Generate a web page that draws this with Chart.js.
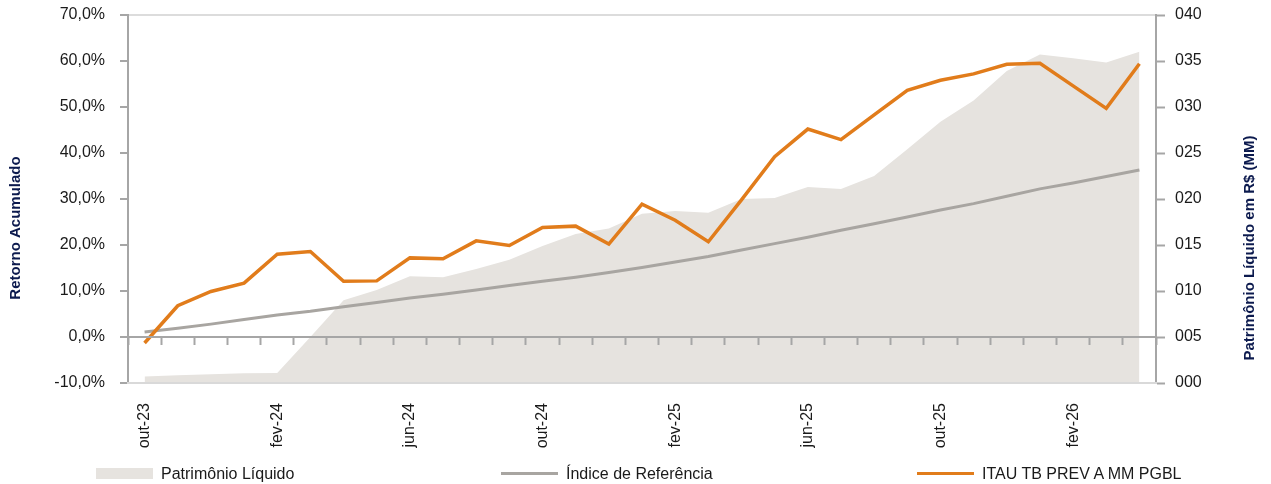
<!DOCTYPE html>
<html>
<head>
<meta charset="utf-8">
<script src="https://cdn.jsdelivr.net/npm/chart.js@4.4.1/dist/chart.umd.min.js"></script>
<style>
  html, body { margin: 0; padding: 0; background: #fff; }
  #wrap { position: relative; width: 1271px; height: 484px; font-family: "Liberation Sans", Arial, sans-serif; }
  #legend { position: absolute; left: 0; top: 462px; width: 1271px; height: 23px; }
  .item { position: absolute; top: 0; height: 23px; display: flex; align-items: center; font-size: 16px; color: #1a1a1a; white-space: nowrap; }
  .sw { width: 57px; margin-right: 8px; }
</style>
</head>
<body>
<div id="wrap">
  <canvas id="line-chart" width="1271" height="484"></canvas>
  <div id="legend"></div>
</div>
<script>
// meses (out-23 .. abr-26)
var months = ['out-23','nov-23','dez-23','jan-24','fev-24','mar-24','abr-24','mai-24','jun-24','jul-24',
              'ago-24','set-24','out-24','nov-24','dez-24','jan-25','fev-25','mar-25','abr-25','mai-25',
              'jun-25','jul-25','ago-25','set-25','out-25','nov-25','dez-25','jan-26','fev-26','mar-26','abr-26'];

// retorno acumulado do fundo (%)
var fundo = [-1.3, 6.8, 9.9, 11.7, 18.0, 18.6, 12.1, 12.2, 17.2, 17.0,
             20.9, 19.9, 23.8, 24.1, 20.2, 28.9, 25.4, 20.7, 29.8, 39.2,
             45.2, 42.9, 48.3, 53.6, 55.8, 57.2, 59.3, 59.5, 54.6, 49.7, 59.4];

// indice de referencia (%)
var indice = [1.1, 1.9, 2.8, 3.8, 4.8, 5.6, 6.6, 7.5, 8.5, 9.3,
              10.2, 11.2, 12.1, 13.0, 14.0, 15.1, 16.3, 17.5, 18.9, 20.3,
              21.7, 23.2, 24.6, 26.1, 27.6, 29.0, 30.6, 32.2, 33.5, 34.9, 36.3];

// patrimonio liquido (R$ MM)
var patrimonio = [0.7, 0.85, 0.95, 1.05, 1.1, 5.0, 9.0, 10.1, 11.6, 11.5,
                  12.4, 13.4, 14.9, 16.2, 16.8, 18.4, 18.7, 18.5, 20.0, 20.1,
                  21.3, 21.1, 22.5, 25.4, 28.4, 30.7, 33.9, 35.7, 35.3, 34.85, 36.0];

var names = ['Patrimônio Líquido', 'Índice de Referência', 'ITAU TB PREV A MM PGBL'];
var leftTitle = 'Retorno Acumulado';
var rightTitle = 'Patrimônio Líquido em R$ (MM)';

var corArea = '#E6E3DF';
var corIndice = '#A8A5A1';
var corFundo = '#E17C1B';
var fonte = '"Liberation Sans", Arial, sans-serif';

var axisTitles = {
    id: 'axisTitles',
    afterDraw: function(chart) {
        var ctx = chart.ctx;
        ctx.save();
        ctx.font = 'bold 15px ' + fonte;
        ctx.fillStyle = '#0C1A4E';
        ctx.textAlign = 'center';
        ctx.textBaseline = 'middle';
        ctx.translate(16, 228);
        ctx.rotate(-Math.PI / 2);
        ctx.fillText(leftTitle, 0, 0);
        ctx.restore();

        ctx.save();
        ctx.font = 'bold 15px ' + fonte;
        ctx.fillStyle = '#0C1A4E';
        ctx.textAlign = 'center';
        ctx.textBaseline = 'middle';
        ctx.translate(1250, 248);
        ctx.rotate(-Math.PI / 2);
        ctx.fillText(rightTitle, 0, 0);
        ctx.restore();
    }
};

new Chart(document.getElementById("line-chart"), {
    type: 'line',
    data: {
        labels: months,
        datasets: [{
            label: names[2],
            data: fundo,
            xAxisID: 'x',
            yAxisID: 'y',
            borderColor: corFundo,
            borderWidth: 3.5,
            pointRadius: 0,
            tension: 0,
            fill: false,
            order: 1
        }, {
            label: names[1],
            data: indice,
            xAxisID: 'x',
            yAxisID: 'y',
            borderColor: corIndice,
            borderWidth: 3,
            pointRadius: 0,
            tension: 0,
            fill: false,
            order: 2
        }, {
            label: names[0],
            data: patrimonio,
            xAxisID: 'x',
            yAxisID: 'y1',
            borderColor: corArea,
            borderWidth: 0,
            backgroundColor: corArea,
            pointRadius: 0,
            tension: 0,
            fill: 'start',
            order: 3
        }]
    },
    options: {
        responsive: false,
        animation: false,
        layout: { padding: { top: 15, left: 0, right: 0, bottom: 0 } },
        plugins: {
            legend: { display: false },
            tooltip: { enabled: false }
        },
        scales: {
            x: {
                type: 'category',
                position: 'bottom',
                offset: true,
                grid: { display: false, drawTicks: false },
                border: { display: true, color: '#D9D9D9', width: 2, z: 1 },
                ticks: {
                    autoSkip: false,
                    minRotation: 90,
                    maxRotation: 90,
                    padding: 20,
                    color: '#1a1a1a',
                    font: { family: fonte, size: 16 },
                    callback: function(value, index) {
                        return index % 4 === 0 ? months[index] : '';
                    }
                },
                afterFit: function(scale) { scale.height = 101; }
            },
            x2: {
                type: 'category',
                axis: 'x',
                position: { y: 0 },
                offset: true,
                grid: {
                    display: true,
                    offset: true,
                    drawOnChartArea: false,
                    drawTicks: true,
                    tickLength: 7,
                    tickColor: '#A6A6A6',
                    tickWidth: 2,
                    z: 1
                },
                border: { display: true, color: '#A6A6A6', width: 2, z: 1 },
                ticks: { display: false }
            },
            y: {
                position: 'left',
                min: -10,
                max: 70,
                ticks: {
                    stepSize: 10,
                    padding: 15,
                    color: '#1a1a1a',
                    font: { family: fonte, size: 16 },
                    callback: function(v) { return v.toFixed(1).replace('.', ',') + '%'; }
                },
                grid: {
                    drawTicks: true,
                    tickLength: 8,
                    tickColor: '#A6A6A6',
                    tickWidth: 2,
                    lineWidth: 2,
                    color: function(c) { return c.tick && c.tick.value === 70 ? '#DCDCDC' : 'rgba(0,0,0,0)'; }
                },
                border: { display: true, color: '#A6A6A6', width: 2 },
                afterFit: function(scale) {
                    scale.width = 128;
                    scale.paddingTop = 0;
                    scale.paddingBottom = 0;
                }
            },
            y1: {
                position: 'right',
                min: 0,
                max: 40,
                ticks: {
                    stepSize: 5,
                    padding: 10,
                    color: '#1a1a1a',
                    font: { family: fonte, size: 16 },
                    callback: function(v) { return ('00' + v).slice(-3); }
                },
                grid: {
                    drawOnChartArea: false,
                    drawTicks: true,
                    tickLength: 9,
                    tickColor: '#A6A6A6',
                    tickWidth: 2
                },
                border: { display: true, color: '#A6A6A6', width: 2 },
                afterFit: function(scale) {
                    scale.width = 115;
                    scale.paddingTop = 0;
                    scale.paddingBottom = 0;
                }
            }
        }
    },
    plugins: [axisTitles]
});

// legenda
var legendLeft = [96, 501, 917];
var legendHtml = '';
legendHtml += '<div class="item" style="left:' + legendLeft[0] + 'px"><span class="sw" style="height:11px;background:' + corArea + '"></span>' + names[0] + '</div>';
legendHtml += '<div class="item" style="left:' + legendLeft[1] + 'px"><span class="sw" style="height:3px;background:' + corIndice + '"></span>' + names[1] + '</div>';
legendHtml += '<div class="item" style="left:' + legendLeft[2] + 'px"><span class="sw" style="height:3px;background:' + corFundo + '"></span>' + names[2] + '</div>';
document.getElementById('legend').innerHTML = legendHtml;
</script>
</body>
</html>
